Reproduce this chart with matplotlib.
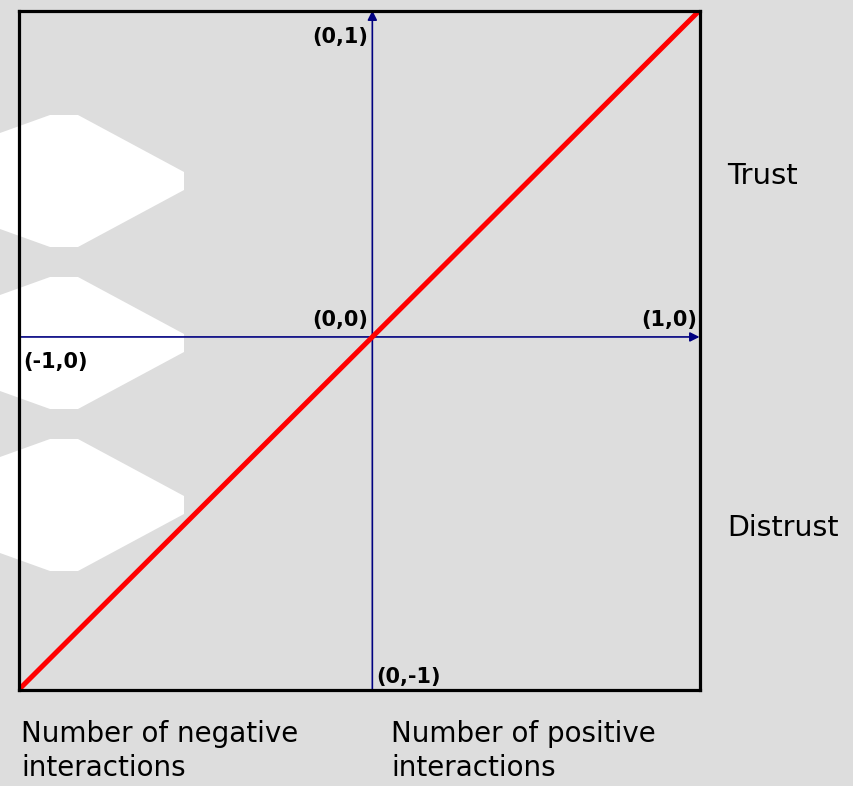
import matplotlib
matplotlib.use("Agg")
import matplotlib.pyplot as plt
from matplotlib.patches import Polygon

# data
line_x = [-1.08, 1.0]
line_y = [-1.08, 1.0]
axis_lo = -1.08
axis_hi = 1.0
point_labels = ["(0,1)", "(0,0)", "(1,0)", "(-1,0)", "(0,-1)"]
side_labels = ["Trust", "Distrust"]
bottom_labels = ["Number of negative\ninteractions", "Number of positive\ninteractions"]
diamond_centers = [181, 343, 505]   # decorative shapes, pixel rows from top

W, H = 854, 786
bg = "#dddddd"
fig = plt.figure(figsize=(W / 100, H / 100), dpi=100, facecolor=bg)
plt.rcParams['font.family'] = ['DejaVu Sans']

# white background decorations
for cy in diamond_centers:
    pts = [(0, cy - 48), (50, cy - 66), (78, cy - 66), (184, cy - 9),
           (184, cy + 9), (78, cy + 66), (50, cy + 66), (0, cy + 48)]
    pts = [(x / W, 1 - y / H) for x, y in pts]
    fig.patches.append(Polygon(pts, closed=True, transform=fig.transFigure,
                               facecolor="white", edgecolor="none", zorder=-5))

ax = fig.add_axes([19 / W, (H - 689.5) / H, 680.5 / W, 679 / H])
ax.set_zorder(3)
ax.set_facecolor("none")
ax.set_xlim(axis_lo, axis_hi)
ax.set_ylim(axis_lo, axis_hi)
ax.set_xticks([])
ax.set_yticks([])
for s in ax.spines.values():
    s.set_linewidth(2.3)
    s.set_color("black")
    s.set_zorder(5)

arr = dict(arrowstyle="-|>", color="#000080", lw=1.2, mutation_scale=14,
           shrinkA=0, shrinkB=0)
ax.annotate("", xy=(axis_hi, 0), xytext=(axis_lo, 0), arrowprops=arr)
ax.annotate("", xy=(0, axis_hi), xytext=(0, axis_lo), arrowprops=arr)

ax.plot(line_x, line_y, color="red", lw=3.6, solid_capstyle="butt", zorder=4)

fs = 15
ax.annotate(point_labels[0], (0, axis_hi), xytext=(-3, -12), textcoords="offset points",
            ha="right", va="top", fontsize=fs, fontweight="bold")
ax.annotate(point_labels[1], (0, 0), xytext=(-3, 5), textcoords="offset points",
            ha="right", va="bottom", fontsize=fs, fontweight="bold")
ax.annotate(point_labels[2], (axis_hi, 0), xytext=(-2, 5), textcoords="offset points",
            ha="right", va="bottom", fontsize=fs, fontweight="bold")
ax.annotate(point_labels[3], (axis_lo, 0), xytext=(3, -11), textcoords="offset points",
            ha="left", va="top", fontsize=fs, fontweight="bold")
ax.annotate(point_labels[4], (0, axis_lo), xytext=(3, 2), textcoords="offset points",
            ha="left", va="bottom", fontsize=fs, fontweight="bold")

fig.text(727 / W, 1 - 184 / H, side_labels[0], fontsize=21, va="baseline", ha="left")
fig.text(727 / W, 1 - 536 / H, side_labels[1], fontsize=20.5, va="baseline", ha="left")
fig.text(21 / W, 1 - 720 / H, bottom_labels[0], fontsize=20, va="top", ha="left",
         linespacing=1.28)
fig.text(391 / W, 1 - 720 / H, bottom_labels[1], fontsize=20, va="top", ha="left",
         linespacing=1.28)

fig.savefig("out.png", dpi=100, facecolor=bg)
